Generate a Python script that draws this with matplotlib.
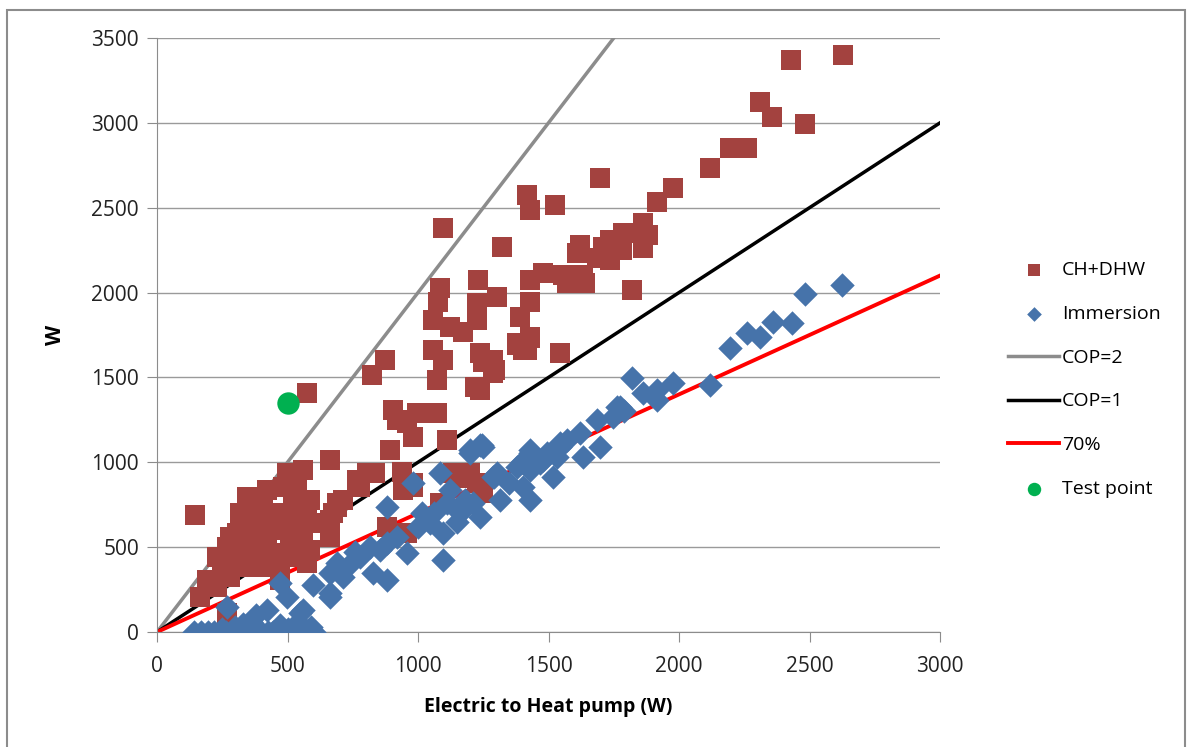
import matplotlib.pyplot as plt
from matplotlib.patches import Rectangle

# CH+DHW (red squares)
ch_x = [2628, 2429, 2310, 2356, 2483, 2195, 2260, 2119,
        1418, 1429, 1525, 1697, 1977, 1916, 1096, 1322,
        1862, 1881, 1839, 1785, 1736, 1862, 1782, 1709,
        1621, 1609, 1686, 1736, 1632, 1556, 1479, 1429,
        1640, 1571, 1820, 1230, 1084, 1077, 1303, 1226,
        1429, 1391, 1057, 1123, 1172, 1226,
        1429, 1379, 1418, 1544, 1238, 1287, 1249, 1295,
        1096, 1057, 1073, 1218, 1073, 1111, 1199, 1134,
        1402, 1429, 1379, 1287, 1238,
        575, 146, 663, 498, 559, 483, 368, 406, 318, 444,
        521, 575, 613, 690, 663, 766, 805, 893, 904, 958,
        981, 920, 996, 1046, 824, 874, 943, 981,
        280, 268, 230, 192, 165, 230, 280, 330, 395, 471,
        433, 483, 548, 586, 559, 521, 356, 395, 307, 471,
        268, 330, 395, 433, 483, 559, 536, 421, 345, 690,
        939, 835, 778, 713, 674, 586, 586, 663,
        881, 958, 1084, 1161, 1226, 1249, 981, 548, 575,
        250, 300, 350, 420, 460, 510, 370, 330, 290, 250]
ch_y = [3400, 3371, 3123, 3035, 2994, 2852, 2852, 2734,
        2575, 2487, 2516, 2675, 2616, 2534, 2381, 2269,
        2410, 2339, 2351, 2351, 2310, 2263, 2251, 2269,
        2281, 2233, 2204, 2192, 2104, 2104, 2115, 2074,
        2057, 2057, 2015, 2074, 2027, 1945, 1974, 1939,
        1945, 1856, 1838, 1797, 1768, 1838,
        1733, 1691, 1662, 1644, 1644, 1603, 1591, 1544,
        1603, 1662, 1485, 1444, 1290, 1131, 937, 937,
        1662, 1738, 1703, 1526, 1426,
        1408, 689, 1013, 937, 955, 855, 766, 778, 701, 701,
        737, 737, 642, 760, 660, 896, 937, 1072, 1308, 1231,
        1149, 1249, 1290, 1290, 1514, 1603, 837, 878,
        560, 501, 442, 306, 206, 265, 324, 383, 383, 383,
        466, 466, 466, 483, 583, 560, 601, 560, 583, 306,
        112, 701, 678, 619, 642, 660, 837, 837, 796, 737,
        943, 937, 855, 778, 701, 778, 642, 560,
        619, 583, 760, 907, 878, 819, 855, 442, 407,
        400, 480, 520, 540, 600, 560, 460, 640, 440, 360]

# Immersion (blue diamonds)
im_x = [140, 170, 195, 220, 245, 265, 290, 310, 335, 355, 380, 400, 425, 445,
        470, 490, 510, 535, 555, 580, 600,
        300, 360, 380, 420, 470, 540, 250, 330, 500, 590,
        268, 471, 498, 559, 598, 663, 690, 663, 548,
        663, 690, 713, 778, 828, 881, 816, 881, 920, 958, 881, 981,
        1015, 1046, 1084, 1096, 1096, 1123, 1111, 1161, 1211, 1238, 1291, 1199,
        1245, 854, 740, 760, 1000, 1060, 1150, 1180,
        1820, 1862, 1916, 1977, 1916, 1774, 1747, 1686, 1697, 1621, 1571, 1544,
        1632, 1533, 1494, 1429, 1379, 1429, 1467, 1517, 1429, 1287, 1314, 1249,
        1402, 1400, 1350, 1238, 1199, 1429, 1544, 1762, 1303, 1479,
        2625, 2483, 2433, 2360, 2310, 2260, 2195, 2119, 1790]
im_y = [0, 0, 0, 0, 0, 0, 0, 0, 0, 0, 0, 0, 0, 0,
        0, 0, 0, 0, 0, 0, 0,
        30, 60, 100, 130, 40, 60, 20, 50, 20, 30,
        147, 289, 206, 130, 277, 348, 407, 206, 112,
        230, 383, 324, 442, 348, 306, 501, 524, 560, 466, 737, 878,
        701, 642, 937, 583, 424, 837, 760, 701, 760, 678, 913, 1072,
        1102, 483, 400, 470, 620, 700, 650, 780,
        1497, 1408, 1426, 1467, 1367, 1326, 1267, 1249, 1090, 1173, 1131, 1090,
        1031, 1031, 1055, 1072, 972, 955, 996, 913, 778, 913, 778, 1090,
        855, 1000, 880, 1102, 1055, 1055, 1114, 1326, 937, 1013,
        2045, 1992, 1821, 1827, 1738, 1762, 1674, 1455, 1300]

test_x = [500]
test_y = [1350]

line_x = [0, 3000]
cop2_x = [0, 1750]

plt.rcParams['font.family'] = ['Open Sans', 'DejaVu Sans']

fig = plt.figure(figsize=(11.9, 7.47), dpi=100)
ax = fig.add_axes([157 / 1190, 1 - 632 / 747, 783 / 1190, 594 / 747])

ax.scatter(ch_x, ch_y, marker='s', s=210, color='#A3423F', linewidths=0,
           label='CH+DHW', zorder=3)
ax.scatter(im_x, im_y, marker='D', s=155, color='#4673AA', linewidths=0,
           label='Immersion', zorder=4)
ax.plot(cop2_x, [2 * v for v in cop2_x], color='#8C8C8C', linewidth=2.5,
        label='COP=2', zorder=2)
ax.plot(line_x, line_x, color='black', linewidth=2.5, label='COP=1', zorder=2)
ax.plot(line_x, [0.7 * v for v in line_x], color='#FF0000', linewidth=2.8,
        label='70%', zorder=2)
ax.scatter(test_x, test_y, marker='o', s=260, color='#00B050', linewidths=0,
           label='Test point', zorder=5)

ax.set_xlim(0, 3000)
ax.set_ylim(0, 3500)
ax.set_xticks(range(0, 3001, 500))
ax.set_yticks(range(0, 3501, 500))
ax.grid(axis='y', color='#9A9A9A', linewidth=1)
ax.set_axisbelow(True)
for side in ['top', 'right']:
    ax.spines[side].set_visible(False)
for side in ['left', 'bottom']:
    ax.spines[side].set_color('#8C8C8C')
ax.tick_params(direction='out', length=7, color='#8C8C8C', labelsize=15,
               labelcolor='#222222', pad=6)
ax.tick_params(axis='x', pad=10)

ax.set_xlabel('Electric to Heat pump (W)', fontsize=14, fontweight='bold',
              labelpad=15)
ax.set_ylabel('W', fontsize=15, fontweight='bold', labelpad=18)

leg = ax.legend(loc='center left', bbox_to_anchor=(1.065, 0.425),
                frameon=False, fontsize=14, labelspacing=1.32,
                handlelength=2.6, handletextpad=0.15, markerscale=0.6)

fig.patches.append(Rectangle((7 / 1190, -0.01), 1178 / 1190, 1 - 10 / 747 + 0.01,
                             transform=fig.transFigure, fill=False,
                             edgecolor='#8C8C8C', linewidth=1.5))

fig.savefig('out.png', dpi=100)
